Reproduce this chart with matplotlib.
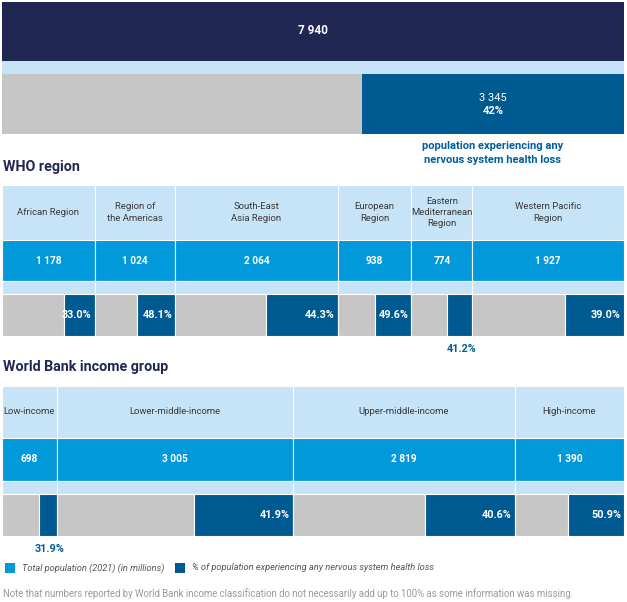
import matplotlib.pyplot as plt

plt.rcParams['font.family'] = ['Roboto', 'DejaVu Sans']

# data
world_total = 7940
world_affected = 3345
world_pct = 42

who_regions = ['African Region', 'Region of\nthe Americas', 'South-East\nAsia Region',
               'European\nRegion', 'Eastern\nMediterranean\nRegion', 'Western Pacific\nRegion']
who_pop = [1178, 1024, 2064, 938, 774, 1927]
who_pct = [33.0, 48.1, 44.3, 49.6, 41.2, 39.0]

wb_groups = ['Low-income', 'Lower-middle-income', 'Upper-middle-income', 'High-income']
wb_pop = [698, 3005, 2819, 1390]
wb_pct = [31.9, 41.9, 40.6, 50.9]

NAVY = '#1f2752'
LIGHT = '#c6e3f7'
BLUE = '#0199da'
DARK = '#005a92'
GREY = '#c6c6c6'
TXT = '#3a3a3a'

X0, W = 2, 622

fig = plt.figure(figsize=(6.27, 6.02), dpi=100)
ax = fig.add_axes([0, 0, 1, 1])
ax.set_xlim(0, 627)
ax.set_ylim(602, 0)
ax.axis('off')


def fmt(n):
    return '{:,}'.format(n).replace(',', ' ')


# top world bar
ax.bar(X0, 59, width=W, bottom=2, align='edge', color=NAVY)
ax.text(X0 + W / 2, 31, fmt(world_total), ha='center', va='center', color='white',
        fontsize=8.5, fontweight='bold')
ax.bar(X0, 13, width=W, bottom=61, align='edge', color=LIGHT)
grey_w = W * (1 - world_affected / world_total)
ax.bar(X0, 60, width=grey_w, bottom=74, align='edge', color=GREY)
ax.bar(X0 + grey_w, 60, width=W - grey_w, bottom=74, align='edge', color=DARK)
cx = X0 + grey_w + (W - grey_w) / 2
ax.text(cx, 98, fmt(world_affected), ha='center', va='center', color='white', fontsize=8)
ax.text(cx, 111, '%d%%' % world_pct, ha='center', va='center', color='white',
        fontsize=8, fontweight='bold')
ax.text(cx, 153, 'population experiencing any\nnervous system health loss', ha='center',
        va='center', color='#005f9e', fontsize=8, fontweight='bold', linespacing=1.4)


def panel(title, title_y, labels, pop, pct, top, head_h, num_h):
    ax.text(3, title_y, title, ha='left', va='center', color=NAVY, fontsize=10.3,
            fontweight='bold')
    scale = W / sum(pop)
    x = X0
    y_num = top + head_h
    y_strip = y_num + num_h
    y_bot = y_strip + 13
    bot_h = 42
    for lab, p, pc in zip(labels, pop, pct):
        w = p * scale
        ax.bar(x, head_h, width=w, bottom=top, align='edge', color=LIGHT,
               edgecolor='white', linewidth=0.8)
        ax.bar(x, num_h, width=w, bottom=y_num, align='edge', color=BLUE,
               edgecolor='white', linewidth=0.8)
        ax.bar(x, 13, width=w, bottom=y_strip, align='edge', color=LIGHT,
               edgecolor='white', linewidth=0.8)
        dw = w * pc / 100
        ax.bar(x, bot_h, width=w - dw, bottom=y_bot, align='edge', color=GREY,
               edgecolor='white', linewidth=0.8)
        ax.bar(x + w - dw, bot_h, width=dw, bottom=y_bot, align='edge', color=DARK,
               edgecolor='white', linewidth=0.8)
        ax.text(x + w / 2, top + head_h / 2, lab, ha='center', va='center', color=TXT,
                fontsize=6.8, linespacing=1.35)
        ax.text(x + w / 2, y_num + num_h / 2, fmt(p), ha='center', va='center',
                color='white', fontsize=7.3, fontweight='bold')
        if dw > 28:
            ax.text(x + w - 3, y_bot + bot_h / 2, '%.1f%%' % pc, ha='right', va='center',
                    color='white', fontsize=7.8, fontweight='bold')
        else:
            ax.text(x + w - dw / 2 + 2, y_bot + bot_h + 13, '%.1f%%' % pc, ha='center',
                    va='center', color='#005f9e', fontsize=7.8, fontweight='bold')
        x += w


panel('WHO region', 167, who_regions, who_pop, who_pct, 185, 55, 41)
panel('World Bank income group', 367, wb_groups, wb_pop, wb_pct, 386, 52, 43)

# legend
ax.bar(5, 10, width=10, bottom=563, align='edge', color=BLUE)
ax.text(22, 568, 'Total population (2021) (in millions)', ha='left', va='center',
        color='#555555', fontsize=6.7, style='italic')
ax.bar(175, 10, width=10, bottom=563, align='edge', color=DARK)
ax.text(192, 568, '% of population experiencing any nervous system health loss',
        ha='left', va='center', color='#555555', fontsize=6.7, style='italic')

ax.text(3, 594, 'Note that numbers reported by World Bank income classification do not '
        'necessarily add up to 100% as some information was missing.', ha='left',
        va='center', color='#9a9a9a', fontsize=6.9)

fig.savefig('out.png', dpi=100)
